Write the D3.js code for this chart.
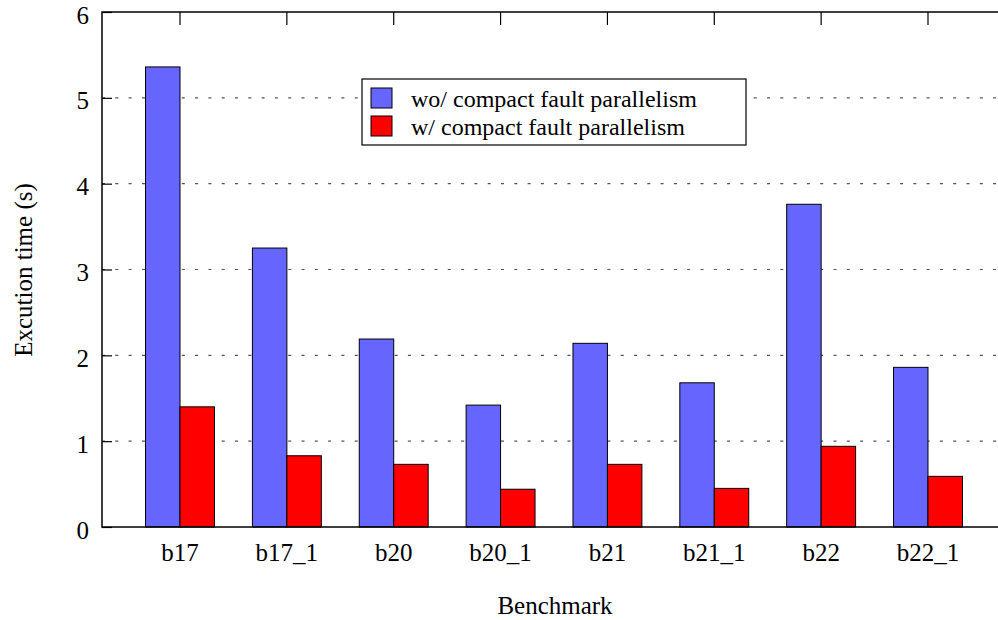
<!DOCTYPE html>
<html>
<head>
<meta charset="utf-8">
<script src="https://cdn.jsdelivr.net/npm/d3@7"></script>
<style>
  html, body { margin: 0; padding: 0; background: #fff; }
  svg { display: block; }
</style>
</head>
<body>
<svg id="chart" width="998" height="620"></svg>
<script>
// Benchmarks and measured execution times (seconds)
const categories = ["b17", "b17_1", "b20", "b20_1", "b21", "b21_1", "b22", "b22_1"];
const withoutCFP = [5.36, 3.25, 2.19, 1.42, 2.14, 1.68, 3.76, 1.86];
const withCFP    = [1.40, 0.83, 0.73, 0.44, 0.73, 0.45, 0.94, 0.59];
const seriesNames = ["wo/ compact fault parallelism", "w/ compact fault parallelism"];
const seriesColors = ["#6666ff", "#ff0000"];
const yTicks = [0, 1, 2, 3, 4, 5, 6];

const FONT = "'Liberation Serif', 'Times New Roman', serif";
const svg = d3.select("#chart").style("font-family", FONT);
const plotLeft = 102, plotTop = 12, plotBottom = 527, plotRight = 1006;

// Category axis runs from -0.73 to n-1+0.73 in index units
const x = d3.scaleLinear().domain([-0.73, categories.length - 1 + 0.73]).range([plotLeft, plotRight]);
const y = d3.scaleLinear().domain([0, 6]).range([plotBottom, plotTop]);
const barW = 0.3225; // width of one bar, index units

// Horizontal dotted grid
svg.append("g").selectAll("line").data(yTicks.filter(d => d > 0 && d < 6)).join("line")
  .attr("x1", plotLeft).attr("x2", plotRight)
  .attr("y1", d => y(d)).attr("y2", d => y(d))
  .attr("stroke", "#555").attr("stroke-width", 1.2)
  .attr("stroke-dasharray", "3,10.3");

// Bars
const series = [withoutCFP, withCFP];
series.forEach((vals, s) => {
  svg.append("g").selectAll("rect").data(vals).join("rect")
    .attr("x", (d, i) => x(i + (s - 1) * barW))
    .attr("width", x(barW) - x(0))
    .attr("y", d => y(d))
    .attr("height", d => y(0) - y(d))
    .attr("fill", seriesColors[s])
    .attr("stroke", "#000").attr("stroke-width", 1);
});

// Frame
svg.append("path")
  .attr("d", `M${plotRight},${plotTop}H${plotLeft}V${plotBottom}H${plotRight}`)
  .attr("fill", "none").attr("stroke", "#000").attr("stroke-width", 1.5);

// Left axis ticks and labels
const yAxis = d3.axisLeft(y).tickValues(yTicks).tickSize(-10).tickPadding(13).tickFormat(d3.format("d"));
const gy = svg.append("g").attr("transform", `translate(${plotLeft},0)`).call(yAxis)
  .attr("font-family", null).attr("font-size", null);
gy.select(".domain").remove();
gy.selectAll(".tick line").attr("stroke", "#000").attr("stroke-width", 1.2);
gy.selectAll(".tick text")
  .style("font-family", FONT).style("font-size", "25px").attr("fill", "#000").attr("dy", "0.44em");

// Top mirrored ticks at category centres
svg.append("g").selectAll("line").data(categories).join("line")
  .attr("x1", (d, i) => x(i)).attr("x2", (d, i) => x(i))
  .attr("y1", plotTop).attr("y2", plotTop + 13)
  .attr("stroke", "#000").attr("stroke-width", 1.2);

// Category labels
svg.append("g").selectAll("text").data(categories).join("text")
  .attr("x", (d, i) => x(i)).attr("y", 561)
  .attr("text-anchor", "middle")
  .style("font-family", FONT).style("font-size", "25px")
  .text(d => d);

// Axis titles
svg.append("text").attr("x", 555).attr("y", 614).attr("text-anchor", "middle")
  .style("font-family", FONT).style("font-size", "25px").text("Benchmark");
svg.append("text").attr("transform", "translate(32,270) rotate(-90)").attr("text-anchor", "middle")
  .style("font-family", FONT).style("font-size", "25px").text("Excution time (s)");

// Legend
const lg = svg.append("g");
lg.append("rect").attr("x", 362).attr("y", 79).attr("width", 384).attr("height", 66)
  .attr("fill", "#fff").attr("stroke", "#000").attr("stroke-width", 1.2);
seriesNames.forEach((name, s) => {
  lg.append("rect").attr("x", 371).attr("y", 88 + s * 28).attr("width", 21).attr("height", 20)
    .attr("fill", seriesColors[s]).attr("stroke", "#000").attr("stroke-width", 1);
  lg.append("text").attr("x", 411).attr("y", 107 + s * 28)
    .style("font-family", FONT).style("font-size", "24px").text(name);
});
</script>
</body>
</html>
